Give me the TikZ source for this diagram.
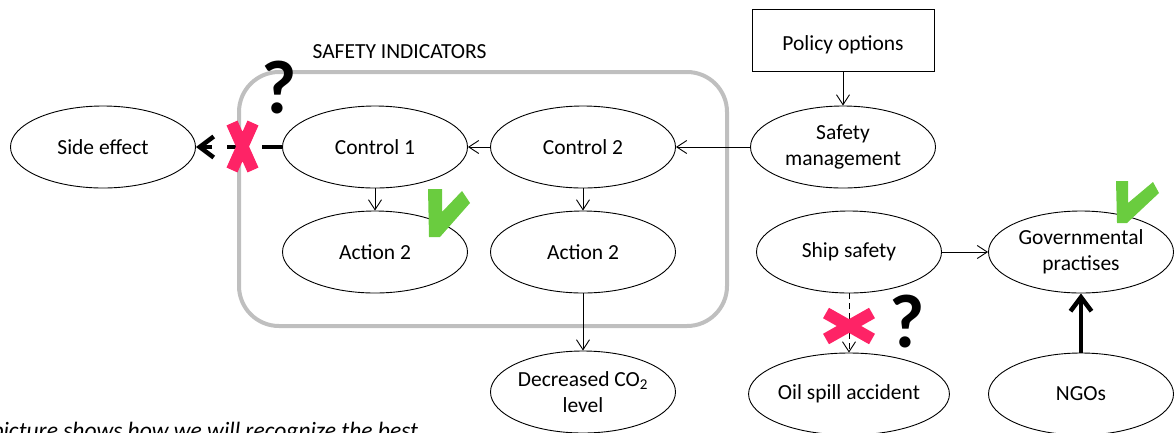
\documentclass[tikz,border=0pt]{standalone}
\usepackage{fontspec}
\setmainfont{Carlito}
\usepackage{tikz}
\usetikzlibrary{arrows.meta,shapes.geometric}
\definecolor{nored}{HTML}{FE2366}
\definecolor{okgreen}{HTML}{6ACC3F}

\begin{document}
\begin{tikzpicture}[x=1pt,y=-1pt,
   every node/.style={font=\fontsize{21.5}{26}\selectfont},
   item/.style={ellipse,draw,line width=0.9pt,minimum width=185pt,minimum height=82pt,inner sep=0pt,align=center},
   box/.style={rectangle,draw,line width=0.9pt,minimum width=182pt,minimum height=62pt,text height=20pt,text depth=0pt},
   group/.style={rectangle,draw=gray!50,line width=4pt,rounded corners=40pt,minimum width=488pt,minimum height=254pt},
   link/.style={-{Straight Barb[length=10pt,width=13pt]},line width=0.9pt},
   strong/.style={-{Straight Barb[length=14pt,width=21pt]},line width=4.5pt},
   nomark/.style={nored,line width=12pt},
   okmark/.style={okgreen},
   query/.style={font=\fontsize{76}{76}\selectfont\bfseries,inner sep=0pt}]
   \useasboundingbox (0,0) rectangle (1174,432);
   \clip (0,0) rectangle (1174,432);

   \node[group] (indicators) at (483,199) {};
   \node[anchor=base west] (title) at (309,58) {SAFETY INDICATORS};

   \node[item] (side)   at (103,147) {Side effect};
   \node[item] (ctl_1)  at (375,147) {Control 1};
   \node[item] (ctl_2)  at (583,147) {Control 2};
   \node[item] (safety) at (843,147) {Safety\\management};
   \node[box]  (policy) at (843,40)  {Policy options};
   \node[item] (act_1)  at (375,252) {Action 2};
   \node[item] (act_2)  at (583,252) {Action 2};
   \node[item] (ship)   at (849,252) {Ship safety};
   \node[item] (gov)    at (1081,252) {Governmental\\practises};
   \node[item] (co_2)   at (583,392) {Decreased CO\textsubscript{2}\\level};
   \node[item] (oil)    at (849,394) {Oil spill accident};
   \node[item] (ngo)    at (1081,394) {NGOs};

    \path[link]
    (policy) edge (safety)
    (safety) edge (ctl_2)
    (ctl_2)  edge (ctl_1)
             edge (act_2)
    (ctl_1)  edge (act_1)
    (act_2)  edge (co_2)
    (ship)   edge (gov);
    \path[link,dash pattern=on 6pt off 4pt] (ship) edge (oil);
    \path[strong,dash pattern=on 20pt off 15pt] (ctl_1) edge (side);
    \path[strong] (ngo) edge (gov);

   % marks
   \draw[nomark] (232,123) -- (253,170) (253,123) -- (232,170);
   \draw[nomark] (826,313) -- (872,339) (826,339) -- (872,313);
   \fill[okmark] (428,189) -- (442,189) -- (442,212) -- (462,191) -- (470,203) -- (440,237) -- (429,237) -- cycle;
   \fill[okmark] (1116,181) -- (1128,181) -- (1128,203) -- (1153,182) -- (1159,193) -- (1127,223) -- (1117,223) -- cycle;
   \node[query] (q_1) at (279,88) {?};
   \node[query] (q_2) at (907,322) {?};

   \node[anchor=base west,font=\fontsize{23.5}{28}\selectfont\itshape] (note) at (-12,438) {picture shows how we will recognize the best};
\end{tikzpicture}
\end{document}
